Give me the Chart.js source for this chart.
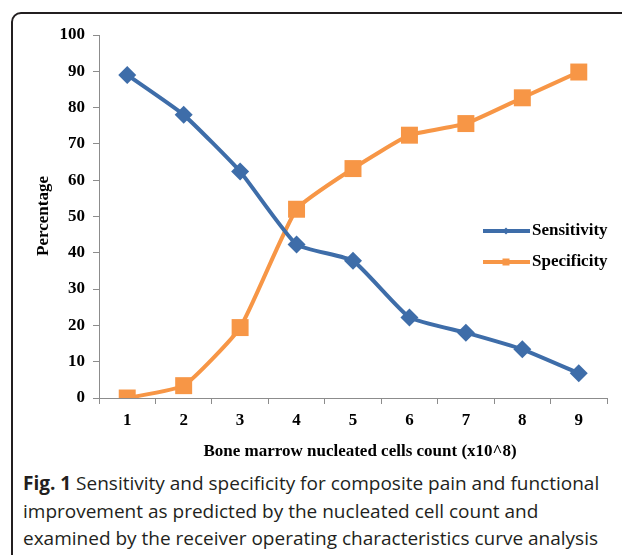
<!DOCTYPE html>
<html>
<head>
<meta charset="utf-8">
<script src="https://cdn.jsdelivr.net/npm/chart.js@4.4.1/dist/chart.umd.min.js"></script>
<style>
  html, body { margin: 0; padding: 0; width: 622px; height: 555px; overflow: hidden; background: #fff; }
  .frame {
    position: absolute; left: 11px; top: 12px; width: 700px; height: 620px;
    border: 2px solid #231f20; border-radius: 10px; box-sizing: border-box;
  }
  #chart { position: absolute; left: 0; top: 0; }
  .caption {
    position: absolute; left: 23px; top: 470px; width: 620px; white-space: nowrap;
    font-family: "Open Sans", sans-serif; font-size: 19px; line-height: 27.5px; color: #231f20;
  }
  .caption b { font-weight: 700; }
</style>
</head>
<body>
<div class="frame"></div>
<canvas id="chart" width="622" height="470"></canvas>
<div class="caption"><b>Fig. 1</b> Sensitivity and specificity for composite pain and functional<br>improvement as predicted by the nucleated cell count and<br>examined by the receiver operating characteristics curve analysis</div>

<script>
// Data
const cellCounts = ['1', '2', '3', '4', '5', '6', '7', '8', '9'];
const sensitivity = [89, 78, 62.4, 42.3, 37.8, 22.2, 18, 13.4, 6.8];
const specificity = [0, 3.4, 19.4, 52, 63.2, 72.4, 75.6, 82.7, 89.8];
const yTicks = [0, 10, 20, 30, 40, 50, 60, 70, 80, 90, 100];

const BLUE = '#3E6DA9';
const ORANGE = '#F79646';
const SERIF = '"Liberation Serif", "Times New Roman", serif';
const AXIS_GRAY = '#8c8c8c';
const FONT_SIZE = 17;

// axis titles and the in-plot legend
const extrasPlugin = {
    id: 'extras',
    afterDraw(chart) {
        const ctx = chart.ctx;
        ctx.save();
        ctx.fillStyle = '#000';
        ctx.font = 'bold ' + FONT_SIZE + 'px ' + SERIF;
        ctx.textAlign = 'center';
        ctx.textBaseline = 'middle';
        ctx.fillText('Bone marrow nucleated cells count (x10^8)', 360, 452);

        ctx.save();
        ctx.translate(44, 216);
        ctx.rotate(-Math.PI / 2);
        ctx.fillText('Percentage', 0, 0);
        ctx.restore();

        // legend
        const items = [
            { label: 'Sensitivity', color: BLUE, y: 231, shape: 'diamond' },
            { label: 'Specificity', color: ORANGE, y: 262, shape: 'square' }
        ];
        items.forEach(it => {
            ctx.strokeStyle = it.color;
            ctx.lineWidth = 4;
            ctx.beginPath();
            ctx.moveTo(483, it.y);
            ctx.lineTo(530, it.y);
            ctx.stroke();
            ctx.fillStyle = it.color;
            ctx.beginPath();
            if (it.shape === 'diamond') {
                ctx.moveTo(506, it.y - 3.5);
                ctx.lineTo(509.5, it.y);
                ctx.lineTo(506, it.y + 3.5);
                ctx.lineTo(502.5, it.y);
                ctx.closePath();
            } else {
                ctx.rect(502.5, it.y - 3.5, 7, 7);
            }
            ctx.fill();
            ctx.fillStyle = '#000';
            ctx.textAlign = 'left';
            ctx.fillText(it.label, 532, it.y);
        });
        ctx.restore();
    }
};

const chart = new Chart(document.getElementById('chart').getContext('2d'), {
    type: 'line',
    data: {
        labels: cellCounts,
        datasets: [
            {
                label: 'Sensitivity',
                data: sensitivity,
                borderColor: BLUE,
                backgroundColor: BLUE,
                borderWidth: 4,
                pointStyle: 'rectRot',
                pointRadius: 9,
                pointBorderWidth: 0,
                tension: 0.15
            },
            {
                label: 'Specificity',
                data: specificity,
                borderColor: ORANGE,
                backgroundColor: ORANGE,
                borderWidth: 4,
                pointStyle: 'rect',
                pointRadius: 12,
                pointBorderWidth: 0,
                tension: 0.15
            }
        ]
    },
    options: {
        responsive: false,
        devicePixelRatio: 1,
        animation: false,
        layout: { padding: { left: 0, top: 35, right: 15, bottom: 0 } },
        plugins: {
            legend: { display: false },
            tooltip: { enabled: false }
        },
        scales: {
            x: {
                type: 'category',
                offset: true,
                grid: {
                    offset: true,
                    drawOnChartArea: false,
                    drawTicks: true,
                    tickLength: 6,
                    color: AXIS_GRAY
                },
                border: { display: true, color: AXIS_GRAY, width: 1 },
                ticks: {
                    color: '#000',
                    padding: 6,
                    maxRotation: 0,
                    font: { family: SERIF, size: FONT_SIZE, weight: 'bold' }
                },
                afterFit(scale) { scale.height = 72; }
            },
            y: {
                min: 0,
                max: 100,
                afterBuildTicks(scale) { scale.ticks = yTicks.map(v => ({ value: v })); },
                grid: {
                    drawOnChartArea: false,
                    drawTicks: true,
                    tickLength: 6,
                    color: AXIS_GRAY
                },
                border: { display: true, color: AXIS_GRAY, width: 1 },
                ticks: {
                    color: '#000',
                    padding: 8,
                    font: { family: SERIF, size: FONT_SIZE, weight: 'bold' }
                },
                afterFit(scale) { scale.width = 99; }
            }
        }
    },
    plugins: [extrasPlugin]
});
</script>
</body>
</html>
